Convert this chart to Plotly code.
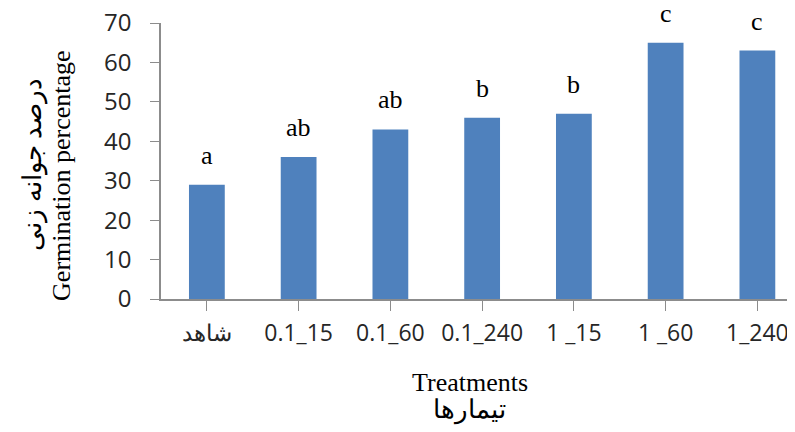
import plotly.graph_objects as go

categories = ["شاهد", "0.1_15", "0.1_60", "0.1_240", "1 _15", "1 _60", "1_240"]
values = [29, 36, 43, 46, 47, 65, 63]
letters = ["a", "ab", "ab", "b", "b", "c", "c"]
y_ticks = [0, 10, 20, 30, 40, 50, 60, 70]

fig = go.Figure()
fig.add_trace(go.Bar(
    x=list(range(len(categories))), y=values,
    marker=dict(color="#4F81BD", line=dict(width=0)),
    width=0.39,
))

for i, (v, t) in enumerate(zip(values, letters)):
    fig.add_annotation(x=i, y=v, text=t, showarrow=False, yanchor="bottom", yshift=13,
                       font=dict(family="Liberation Serif", size=26, color="black"))

axis_col = "#8C8C8C"
fig.update_layout(
    width=795, height=432,
    margin=dict(l=153, r=8, t=15, b=141),
    plot_bgcolor="white", paper_bgcolor="white",
    showlegend=False,
    xaxis=dict(
        range=[-0.5, 6.41], automargin=False,
        tickmode="array", tickvals=list(range(len(categories))), ticktext=categories,
        tickson="boundaries", ticks="outside", ticklen=10, tickcolor=axis_col,
        showline=True, linecolor=axis_col, linewidth=1.5,
        showgrid=False, zeroline=False,
        tickfont=dict(family="Open Sans", size=23, color="#262626"),
        ticklabelstandoff=3, ticklabeloverflow="allow",
    ),
    yaxis=dict(
        range=[0, 70], tickmode="array", tickvals=y_ticks, automargin=False,
        ticks="outside", ticklen=9, tickcolor=axis_col,
        showline=True, linecolor=axis_col, linewidth=1.5,
        showgrid=False, zeroline=False,
        tickfont=dict(family="Open Sans", size=24, color="#262626"),
        ticklabelstandoff=14, ticklabeloverflow="allow",
    ),
)

serif = dict(family="Liberation Serif", size=26, color="black")
fig.add_annotation(xref="paper", yref="paper", x=-0.158, y=0.449, xanchor="center", yanchor="middle",
                   text="Germination percentage", textangle=-90, showarrow=False, font=serif)
fig.add_annotation(xref="paper", yref="paper", x=-0.202, y=0.489, xanchor="center", yanchor="middle",
                   text="درصد جوانه زنی", textangle=-90, showarrow=False, font=serif)
fig.add_annotation(xref="paper", yref="paper", x=0.487, y=-0.304, xanchor="center", yanchor="middle",
                   text="Treatments", showarrow=False, font=serif)
fig.add_annotation(xref="paper", yref="paper", x=0.487, y=-0.402, xanchor="center", yanchor="middle",
                   text="تیمارها", showarrow=False, font=serif)

fig.write_html("out.html")
